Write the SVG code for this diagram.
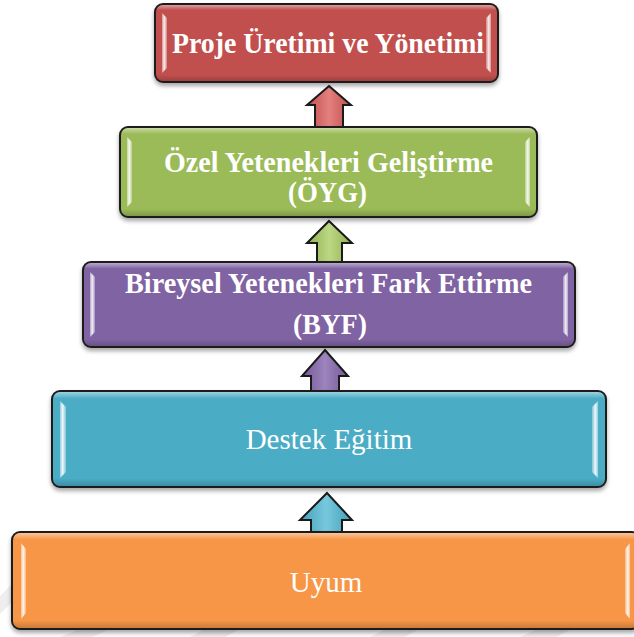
<svg xmlns="http://www.w3.org/2000/svg" width="634" height="637" viewBox="0 0 634 637">
  <defs>
    <style>
      .box{stroke:#1e1e1e;stroke-width:2}
      .bevel{fill:url(#bevel);stroke:none}
      .barL{fill:url(#barL)}
      .barR{fill:url(#barR)}
      .t{font-family:"Liberation Serif","Times New Roman",serif;fill:#ffffff;text-anchor:middle}
      .b{font-weight:bold;font-size:30px}
      .r{font-size:29px}
      .arrow{stroke:#1a1a1a;stroke-width:2;stroke-linejoin:miter}
      .bg{fill:#eeeeee}
    </style>
    <filter id="shadow" x="-5%" y="-10%" width="110%" height="135%">
      <feDropShadow dx="0" dy="3" stdDeviation="2.2" flood-color="#000" flood-opacity="0.35"/>
    </filter>
    <linearGradient id="bevel" x1="0" y1="0" x2="0" y2="1">
      <stop offset="0" stop-color="#fff" stop-opacity="0.45"/>
      <stop offset="0.07" stop-color="#fff" stop-opacity="0"/>
      <stop offset="0.92" stop-color="#000" stop-opacity="0"/>
      <stop offset="1" stop-color="#000" stop-opacity="0.18"/>
    </linearGradient>
    <linearGradient id="barL" x1="0" y1="0" x2="1" y2="0">
      <stop offset="0" stop-color="#fff" stop-opacity="0.4"/>
      <stop offset="0.45" stop-color="#fff" stop-opacity="0.9"/>
      <stop offset="1" stop-color="#fff" stop-opacity="0.3"/>
    </linearGradient>
    <linearGradient id="barR" x1="1" y1="0" x2="0" y2="0">
      <stop offset="0" stop-color="#fff" stop-opacity="0.4"/>
      <stop offset="0.45" stop-color="#fff" stop-opacity="0.9"/>
      <stop offset="1" stop-color="#fff" stop-opacity="0.3"/>
    </linearGradient>
    <linearGradient id="arRed" x1="0" y1="0" x2="1" y2="0">
      <stop offset="0" stop-color="#c04e4b"/>
      <stop offset="0.5" stop-color="#e3807e"/>
      <stop offset="1" stop-color="#c04e4b"/>
    </linearGradient>
    <linearGradient id="arGreen" x1="0" y1="0" x2="1" y2="0">
      <stop offset="0" stop-color="#8fb150"/>
      <stop offset="0.5" stop-color="#bcd784"/>
      <stop offset="1" stop-color="#8fb150"/>
    </linearGradient>
    <linearGradient id="arPurple" x1="0" y1="0" x2="1" y2="0">
      <stop offset="0" stop-color="#735896"/>
      <stop offset="0.5" stop-color="#9d84bd"/>
      <stop offset="1" stop-color="#735896"/>
    </linearGradient>
    <linearGradient id="arCyan" x1="0" y1="0" x2="1" y2="0">
      <stop offset="0" stop-color="#40a0ba"/>
      <stop offset="0.5" stop-color="#78c8dc"/>
      <stop offset="1" stop-color="#40a0ba"/>
    </linearGradient>
  </defs>

  <rect width="634" height="637" fill="#ffffff"/>

  <!-- faint backdrop chevrons along the lower edge -->
  <g id="backdrop">
    <polygon class="bg" points="0,596 14,582 14,600 0,614"/>
    <polygon class="bg" points="60,637 80,629 110,629 92,637"/>
    <polygon class="bg" points="190,637 205,629 240,629 225,637"/>
    <polygon class="bg" points="370,637 386,629 420,629 404,637"/>
    <polygon class="bg" points="520,637 538,629 572,629 556,637"/>
  </g>

  <!-- upward block arrows between the levels -->
  <g id="connectors">
    <path class="arrow" fill="url(#arRed)" d="M329,86 L351,105 L343,105 L343,128 L315,128 L315,105 L307,105 Z"/>
    <path class="arrow" fill="url(#arGreen)" d="M329,221 L352,243 L342,243 L342,263 L317,263 L317,243 L307,243 Z"/>
    <path class="arrow" fill="url(#arPurple)" d="M325,350 L348,376 L339,376 L339,392 L311,392 L311,376 L302,376 Z"/>
    <path class="arrow" fill="url(#arCyan)" d="M327,493 L352,520 L342,520 L342,533 L311,533 L311,520 L300,520 Z"/>
  </g>

  <g id="level-proje">
    <rect class="box" x="155" y="4" width="343" height="78" rx="8" fill="#c0504d" filter="url(#shadow)"/>
    <rect class="bevel" x="156" y="5" width="341" height="76" rx="7"/>
    <path class="barL" d="M162,13 L167,18 L167,68 L162,73 Z"/>
    <path class="barR" d="M491,13 L486,18 L486,68 L491,73 Z"/>
    <text class="t b" x="328" y="53" textLength="312" lengthAdjust="spacingAndGlyphs">Proje Üretimi ve Yönetimi</text>
  </g>

  <g id="level-oyg">
    <rect class="box" x="120" y="127" width="417" height="90" rx="8" fill="#9bbb59" filter="url(#shadow)"/>
    <rect class="bevel" x="121" y="128" width="415" height="88" rx="7"/>
    <path class="barL" d="M127,137 L132,142 L132,202 L127,207 Z"/>
    <path class="barR" d="M530,137 L525,142 L525,202 L530,207 Z"/>
    <text class="t b" x="328.5" y="172" textLength="329" lengthAdjust="spacingAndGlyphs">Özel Yetenekleri Geliştirme</text>
    <text class="t b" x="327.5" y="202" textLength="79" lengthAdjust="spacingAndGlyphs">(ÖYG)</text>
  </g>

  <g id="level-byf">
    <rect class="box" x="83" y="262" width="492" height="85" rx="8" fill="#8064a2" filter="url(#shadow)"/>
    <rect class="bevel" x="84" y="263" width="490" height="83" rx="7"/>
    <path class="barL" d="M90,272 L95,277 L95,332 L90,337 Z"/>
    <path class="barR" d="M568,272 L563,277 L563,332 L568,337 Z"/>
    <text class="t b" x="328.5" y="293" textLength="407" lengthAdjust="spacingAndGlyphs">Bireysel Yetenekleri Fark Ettirme</text>
    <text class="t b" x="330" y="334" textLength="74" lengthAdjust="spacingAndGlyphs">(BYF)</text>
  </g>

  <g id="level-destek">
    <rect class="box" x="52" y="391" width="554" height="96" rx="8" fill="#4bacc6" filter="url(#shadow)"/>
    <rect class="bevel" x="53" y="392" width="552" height="94" rx="7"/>
    <path class="barL" d="M60,401 L66,407 L66,472 L60,478 Z"/>
    <path class="barR" d="M598,401 L592,407 L592,472 L598,478 Z"/>
    <text class="t r" x="329" y="449">Destek Eğitim</text>
  </g>

  <g id="level-uyum">
    <rect class="box" x="12" y="532" width="628" height="97" rx="8" fill="#f79646" filter="url(#shadow)"/>
    <rect class="bevel" x="13" y="533" width="626" height="95" rx="7"/>
    <path class="barL" d="M21,543 L26,549 L26,613 L21,619 Z"/>
    <path class="barR" d="M630,543 L625,549 L625,613 L630,619 Z"/>
    <text class="t r" x="326" y="592" font-size="28">Uyum</text>
  </g>
</svg>
